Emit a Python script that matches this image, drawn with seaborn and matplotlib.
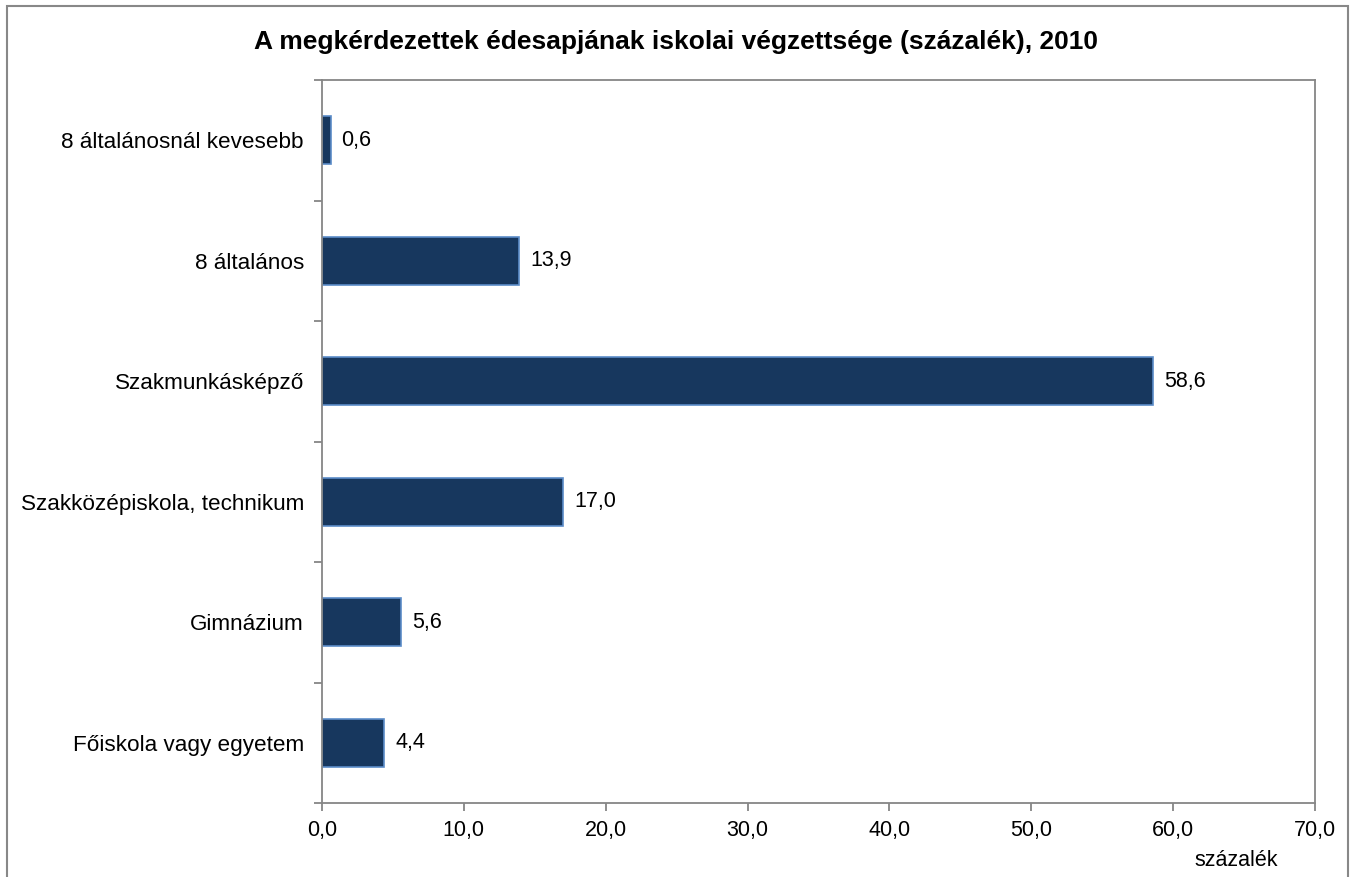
import matplotlib
matplotlib.use("Agg")
import matplotlib.pyplot as plt
import seaborn as sns
import pandas as pd
import numpy as np
from matplotlib.patches import Rectangle

categories = ["8 általánosnál kevesebb", "8 általános", "Szakmunkásképző",
              "Szakközépiskola, technikum", "Gimnázium", "Főiskola vagy egyetem"]
values = [0.6, 13.9, 58.6, 17.0, 5.6, 4.4]
x_ticks = [0, 10, 20, 30, 40, 50, 60, 70]
title = "A megkérdezettek édesapjának iskolai végzettsége (százalék), 2010"
x_label = "százalék"

sns.set_theme(style="white")
plt.rcParams['font.family'] = ['Liberation Sans', 'DejaVu Sans']
plt.rcParams['text.color'] = 'black'
plt.rcParams['xtick.color'] = '#868686'
plt.rcParams['ytick.color'] = '#868686'
plt.rcParams['xtick.labelcolor'] = 'black'
plt.rcParams['ytick.labelcolor'] = 'black'

df = pd.DataFrame({"cat": categories, "val": values})

fig = plt.figure(figsize=(13.51, 8.77), dpi=100)
ax = fig.add_axes([322/1351, 1-803/877, (1315-322)/1351, (803-80)/877])

sns.barplot(data=df, x="val", y="cat", orient="h", ax=ax, color="#17375E",
            width=0.4, edgecolor="#5B8CC8", linewidth=1.2, saturation=1)

ax.set_xlim(0, 70)
ax.set_ylim(5.5, -0.5)
ax.set_xticks(x_ticks)
ax.set_xticklabels([f"{t:.1f}".replace(".", ",") for t in x_ticks], fontsize=15.5)
ax.set_yticks(range(len(categories)))
ax.set_yticklabels(categories, fontsize=16.2)
ax.tick_params(axis="y", which="major", left=True, length=0, pad=13)
ax.set_yticks(np.arange(-0.5, len(categories), 1), minor=True)
ax.tick_params(axis="y", which="minor", left=True, length=6, width=1.3,
               color="#868686", direction="out")
ax.tick_params(axis="x", which="major", bottom=True, length=6, width=1.3,
               color="#868686", direction="out", pad=6)
ax.set_xlabel("")
ax.set_ylabel("")
for s in ax.spines.values():
    s.set_color("#868686")
    s.set_linewidth(1.3)
    s.set_visible(True)

for i, v in enumerate(values):
    ax.annotate(f"{v:.1f}".replace(".", ","), xy=(v, i), xytext=(8, 0),
                textcoords="offset points", va="center", ha="left", fontsize=15.5,
                color="black")

fig.text(0.5, 1-42/877, title, ha="center", va="center", fontsize=19,
         fontweight="bold", color="black")
fig.text(1236/1351, 1-860/877, x_label, ha="center", va="center", fontsize=15.5,
         color="black")

fig.patches.append(Rectangle((7/1351, -0.1), (1348-7)/1351, 1.1-6/877,
                             transform=fig.transFigure, fill=False,
                             edgecolor="#888888", linewidth=1.5))

fig.savefig("out.png", dpi=100)
